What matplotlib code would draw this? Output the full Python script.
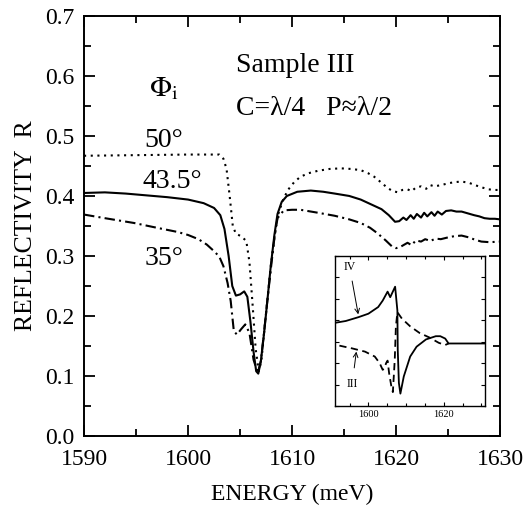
import numpy as np
import matplotlib
matplotlib.use("Agg")
import matplotlib.pyplot as plt
from matplotlib.ticker import MultipleLocator, FormatStrFormatter

plt.rcParams['font.family'] = ['Liberation Serif', 'DejaVu Serif']
plt.rcParams['mathtext.fontset'] = 'stix'

# main panel: 43.5 deg (solid)
e_435 = [1590, 1592, 1594, 1596, 1598, 1600, 1601.5, 1602.5, 1603.1, 1603.5, 1603.9,
         1604.25, 1604.6, 1605.0, 1605.4, 1605.7, 1606.0, 1606.3, 1606.55, 1606.75,
         1607.0, 1607.3, 1607.65, 1607.95, 1608.3, 1608.6, 1609.0, 1609.5, 1610.5,
         1611.8, 1613, 1614.1, 1615.5, 1616.6, 1617.6, 1618.6, 1619.3, 1619.9, 1620.3,
         1620.7, 1621.0, 1621.4, 1621.7, 1622.0, 1622.4, 1622.7, 1623.0, 1623.4, 1623.7,
         1624.0, 1624.4, 1624.8, 1625.3, 1625.8, 1626.3, 1626.9, 1627.5, 1628.0, 1628.5,
         1629.0, 1629.5, 1630]
r_435 = [0.405, 0.406, 0.404, 0.401, 0.398, 0.394, 0.388, 0.380, 0.368, 0.345, 0.300,
         0.250, 0.234, 0.236, 0.241, 0.232, 0.190, 0.140, 0.108, 0.104,
         0.125, 0.170, 0.230, 0.283, 0.335, 0.370, 0.390, 0.400, 0.407,
         0.409, 0.407, 0.404, 0.400, 0.394, 0.386, 0.378, 0.368, 0.357, 0.358,
         0.364, 0.360, 0.368, 0.362, 0.370, 0.364, 0.372, 0.366, 0.373, 0.367,
         0.374, 0.369, 0.375, 0.376, 0.374, 0.374, 0.371, 0.368, 0.366, 0.363,
         0.362, 0.362, 0.361]

# 50 deg (dotted)
e_50 = [1590, 1595, 1600, 1603.0, 1603.4, 1603.7, 1604.0, 1604.3, 1604.6, 1605.1, 1605.6,
        1605.9, 1606.2, 1606.5, 1606.8, 1607.05, 1607.3, 1607.65, 1607.95, 1608.3, 1608.6,
        1609.1, 1609.6, 1610.2, 1610.8, 1611.6, 1612.5, 1613.6, 1614.7, 1615.7, 1616.6,
        1617.3, 1617.9, 1618.6, 1619.2, 1619.7, 1620.2, 1620.6, 1621.1, 1621.5, 1621.9,
        1622.4, 1622.9, 1623.3, 1623.7, 1624.3, 1625.0, 1625.6, 1626.3, 1627.0, 1627.6,
        1628.3, 1628.9, 1629.5, 1630]
r_50 = [0.467, 0.468, 0.469, 0.469, 0.462, 0.445, 0.400, 0.350, 0.337, 0.333, 0.325,
        0.290, 0.220, 0.145, 0.108, 0.125, 0.170, 0.230, 0.283, 0.330, 0.366,
        0.392, 0.410, 0.423, 0.432, 0.438, 0.442, 0.445, 0.446, 0.445, 0.443,
        0.438, 0.432, 0.422, 0.413, 0.408, 0.406, 0.410, 0.411, 0.408, 0.414,
        0.416, 0.412, 0.418, 0.416, 0.418, 0.421, 0.423, 0.424, 0.422, 0.418,
        0.414, 0.411, 0.410, 0.410]

# 35 deg (dash-dot)
e_35 = [1590, 1592, 1594.8, 1597, 1599, 1600, 1601, 1601.8, 1602.5, 1603.0, 1603.4,
        1603.8, 1604.1, 1604.4, 1604.7, 1605.1, 1605.5, 1605.9, 1606.3, 1606.7, 1607.0,
        1607.3, 1607.65, 1607.95, 1608.3, 1608.6, 1609.2, 1610.0, 1610.8, 1612.5, 1614.1,
        1615.5, 1616.6, 1617.5, 1618.2, 1619.0, 1619.6, 1620.0, 1620.5, 1621.1, 1621.5,
        1621.9, 1622.4, 1622.8, 1623.3, 1623.8, 1624.3, 1625.0, 1625.6, 1626.3, 1627.0,
        1627.6, 1628.2, 1629.0, 1630]
r_35 = [0.369, 0.363, 0.355, 0.347, 0.340, 0.335, 0.328, 0.319, 0.308, 0.299, 0.283,
        0.255, 0.225, 0.175, 0.169, 0.178, 0.186, 0.172, 0.127, 0.105, 0.125,
        0.172, 0.230, 0.277, 0.330, 0.363, 0.376, 0.377, 0.377, 0.372, 0.367,
        0.361, 0.355, 0.347, 0.338, 0.326, 0.316, 0.313, 0.316, 0.322, 0.318,
        0.326, 0.324, 0.328, 0.325, 0.329, 0.328, 0.331, 0.333, 0.334, 0.331,
        0.327, 0.324, 0.323, 0.324]

# inset: samples IV (solid) and III (dashed), arbitrary units
e_iv = [1591, 1594.0, 1597.4, 1600, 1602.6, 1603.8, 1605.1, 1605.8, 1607.1, 1607.7,
        1607.8, 1608.1, 1608.5, 1609.4, 1611.1, 1612.8, 1615.3, 1617.9, 1619.1, 1620.4,
        1621.3, 1625, 1631]
r_iv = [3.88, 3.97, 4.15, 4.31, 4.62, 4.92, 5.34, 5.08, 5.57, 4.46,
        2.62, 1.08, 0.58, 1.38, 2.31, 2.77, 3.11, 3.26, 3.26, 3.15,
        2.92, 2.92, 2.92]
e_iii = [1592.3, 1595.7, 1599.1, 1601.7, 1603.0, 1603.8, 1604.3, 1604.7, 1605.1, 1605.5,
         1606.1, 1606.5, 1607.0, 1607.3, 1607.7, 1608.9, 1611.1, 1613.6, 1616.2, 1618.7,
         1620.4, 1621.3]
r_iii = [2.82, 2.69, 2.54, 2.31, 2.00, 1.69, 1.77, 2.00, 2.12, 1.54,
         0.92, 0.65, 2.15, 3.69, 4.38, 4.08, 3.72, 3.41, 3.20, 2.95,
         2.85, 2.92]

fig = plt.figure(figsize=(5.32, 5.13), dpi=100)
ax = fig.add_axes([0.158, 0.150, 0.782, 0.819])

lw = 1.5
ax.plot(e_50, r_50, color='black', lw=lw, linestyle=(0, (1, 2.2)))
ax.plot(e_435, r_435, color='black', lw=lw, linestyle='-')
ax.plot(e_35, r_35, color='black', lw=lw, linestyle=(0, (5, 2, 1, 2)))

ax.set_xlim(1590, 1630)
ax.set_ylim(0.0, 0.7)
ax.xaxis.set_major_locator(MultipleLocator(10))
ax.xaxis.set_minor_locator(MultipleLocator(5))
ax.yaxis.set_major_locator(MultipleLocator(0.1))
ax.yaxis.set_minor_locator(MultipleLocator(0.05))
ax.yaxis.set_major_formatter(FormatStrFormatter('%.1f'))
ax.tick_params(which='both', direction='in', top=True, right=True, width=1.3,
               labelsize=17, pad=7)
ax.tick_params(axis='x', pad=9)
ax.tick_params(which='major', length=8)
ax.tick_params(which='minor', length=5)
for sp in ax.spines.values():
    sp.set_linewidth(1.4)

ax.set_xlabel('ENERGY (meV)', fontsize=17, labelpad=10)
ax.set_ylabel('REFLECTIVITY  R', fontsize=18.5, labelpad=6)

ax.text(1604.6, 0.618, 'Sample III', fontsize=20, ha='left', va='center')
ax.text(1604.6, 0.545, 'C=λ/4   P≈λ/2', fontsize=20, ha='left', va='center')
ax.text(1597.7, 0.578, r'$\Phi_\mathrm{i}$', fontsize=21, ha='center', va='center')
ax.text(1597.7, 0.492, '50°', fontsize=20, ha='center', va='center')
ax.text(1598.5, 0.424, '43.5°', fontsize=20, ha='center', va='center')
ax.text(1597.7, 0.296, '35°', fontsize=20, ha='center', va='center')

# inset
ins = ax.inset_axes([0.602, 0.0714, 0.362, 0.357])
ins.plot(e_iv, r_iv, color='black', lw=1.3)
ins.plot(e_iii, r_iii, color='black', lw=1.3, linestyle=(0, (4, 2.5)))
ins.set_xlim(1591, 1631)
ins.set_ylim(0, 7)
ins.xaxis.set_major_locator(MultipleLocator(20))
ins.xaxis.set_minor_locator(MultipleLocator(5))
ins.yaxis.set_major_locator(MultipleLocator(1))
ins.tick_params(which='both', direction='in', top=True, right=True, labelsize=7.5,
                width=0.8, pad=3, labelleft=False)
ins.tick_params(which='major', length=3)
ins.tick_params(which='minor', length=2)
for sp in ins.spines.values():
    sp.set_linewidth(1.0)
ins.annotate('IV', xy=(1597.3, 4.28), xytext=(1595.0, 6.5), fontsize=8.5,
             ha='center', va='center',
             arrowprops=dict(arrowstyle='->', lw=0.7, color='black', shrinkA=4, shrinkB=0))
ins.annotate('III', xy=(1596.8, 2.54), xytext=(1595.7, 1.05), fontsize=8.5,
             ha='center', va='center',
             arrowprops=dict(arrowstyle='->', lw=0.7, color='black', shrinkA=5, shrinkB=0))

fig.savefig('out.png', dpi=100)
